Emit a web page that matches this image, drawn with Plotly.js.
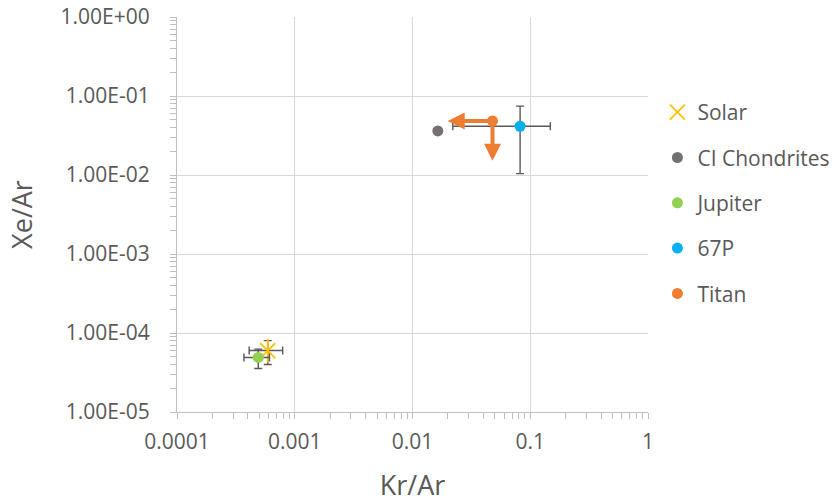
<!DOCTYPE html>
<html>
<head>
<meta charset="utf-8">
<script src="https://cdn.plot.ly/plotly-3.0.1.min.js"></script>
<style>html,body{margin:0;padding:0;background:#fff;}#chart{width:839px;height:503px;}</style>
</head>
<body>
<div id="chart"></div>
<script>
// Data
const seriesNames = ["Solar", "CI Chondrites", "Jupiter", "67P", "Titan"];
const krAr = [5.9e-4, 0.0164, 4.9e-4, 0.082, 0.0478];
const xeAr = [6.0e-5, 0.0361, 4.9e-5, 0.0414, 0.0483];
const krArErrPlus  = [2.0e-4, null, 1.2e-4, 0.066, null];
const krArErrMinus = [1.8e-4, null, 1.2e-4, 0.060, null];
const xeArErrPlus  = [2.0e-5, null, 1.35e-5, 0.033, null];
const xeArErrMinus = [2.0e-5, null, 1.35e-5, 0.031, null];
// Titan upper-limit arrows (arrow tips)
const titanKrArLimit = 0.0199;
const titanXeArLimit = 0.0151;
const xTickVals = [0.0001, 0.001, 0.01, 0.1, 1];
const xTickText = ["0.0001", "0.001", "0.01", "0.1", "1"];
const yTickVals = [1e-5, 1e-4, 1e-3, 1e-2, 1e-1, 1];
const yTickText = ["1.00E-05", "1.00E-04", "1.00E-03", "1.00E-02", "1.00E-01", "1.00E+00"];

const colors = ["#FFC000", "#767171", "#92D050", "#00B0F0", "#ED7D31"];
const errColor = "#595959";
const textColor = "#595959";
const font = "Open Sans, sans-serif";

function errX(i) {
  if (krArErrPlus[i] == null) return {visible: false};
  return {type: "data", symmetric: false, array: [krArErrPlus[i]], arrayminus: [krArErrMinus[i]],
          color: errColor, thickness: 1.4, width: 4};
}
function errY(i) {
  if (xeArErrPlus[i] == null) return {visible: false};
  return {type: "data", symmetric: false, array: [xeArErrPlus[i]], arrayminus: [xeArErrMinus[i]],
          color: errColor, thickness: 1.4, width: 4};
}

const traces = [];
seriesNames.forEach((name, i) => {
  const isSolar = i === 0;
  traces.push({
    type: "scatter", mode: "markers", name: name,
    x: [krAr[i]], y: [xeAr[i]],
    legendgroup: "g" + i,
    error_x: errX(i), error_y: errY(i),
    marker: isSolar
      ? {symbol: "x-thin-open", size: 15, color: colors[i], line: {color: colors[i], width: 1.8}}
      : {symbol: "circle", size: 11, color: colors[i], line: {width: 0}},
    cliponaxis: false
  });
  if (isSolar) {
    traces.push({
      type: "scatter", mode: "markers", name: name, showlegend: false,
      x: [krAr[i]], y: [xeAr[i]], legendgroup: "g" + i,
      marker: {symbol: "line-ns-open", size: 17, color: colors[i], line: {color: colors[i], width: 1.8}},
      hoverinfo: "skip"
    });
  }
});

const ti = 4;
const annotations = [
  {x: Math.log10(titanKrArLimit), y: Math.log10(xeAr[ti]), ax: Math.log10(krAr[ti]), ay: Math.log10(xeAr[ti]),
   xref: "x", yref: "y", axref: "x", ayref: "y", text: "", showarrow: true,
   arrowhead: 2, arrowsize: 0.85, arrowwidth: 4, arrowcolor: colors[ti]},
  {x: Math.log10(krAr[ti]), y: Math.log10(titanXeArLimit), ax: Math.log10(krAr[ti]), ay: Math.log10(xeAr[ti]),
   xref: "x", yref: "y", axref: "x", ayref: "y", text: "", showarrow: true,
   arrowhead: 2, arrowsize: 0.85, arrowwidth: 4, arrowcolor: colors[ti]}
];

const layout = {
  width: 839, height: 503,
  margin: {l: 177, r: 191, t: 17, b: 91, autoexpand: false},
  paper_bgcolor: "#ffffff", plot_bgcolor: "#ffffff",
  font: {family: font, color: textColor},
  showlegend: true,
  xaxis: {
    type: "log", range: [-4, 0],
    tickvals: xTickVals, ticktext: xTickText,
    tickfont: {size: 21, color: textColor, family: font},
    ticks: "outside", ticklen: 6, tickcolor: "#bfbfbf", ticklabelstandoff: 5,
    showgrid: true, gridcolor: "#d9d9d9", gridwidth: 1,
    showline: true, linecolor: "#bfbfbf", linewidth: 1,
    zeroline: false,
    minor: {ticks: "outside", ticklen: 6, tickcolor: "#bfbfbf", dtick: "D1", showgrid: false},
    title: {text: "Kr/Ar", font: {size: 27, color: textColor, family: font}, standoff: 26}
  },
  yaxis: {
    type: "log", range: [-5, 0],
    tickvals: yTickVals, ticktext: yTickText,
    tickfont: {size: 21, color: textColor, family: font},
    ticks: "outside", ticklen: 6, tickcolor: "#bfbfbf", ticklabelstandoff: 16,
    showgrid: true, gridcolor: "#d9d9d9", gridwidth: 1,
    showline: true, linecolor: "#bfbfbf", linewidth: 1,
    zeroline: false,
    minor: {ticks: "outside", ticklen: 6, tickcolor: "#bfbfbf", dtick: "D1", showgrid: false},
    title: {text: "Xe/Ar", font: {size: 27, color: textColor, family: font}, standoff: 20}
  },
  legend: {
    x: 1.02, xanchor: "left", y: 0.81, yanchor: "top",
    font: {size: 21, color: textColor, family: font},
    tracegroupgap: 15, itemwidth: 30,
    bgcolor: "rgba(0,0,0,0)"
  },
  annotations: annotations
};

Plotly.newPlot("chart", traces, layout, {staticPlot: true, displayModeBar: false});
</script>
</body>
</html>
